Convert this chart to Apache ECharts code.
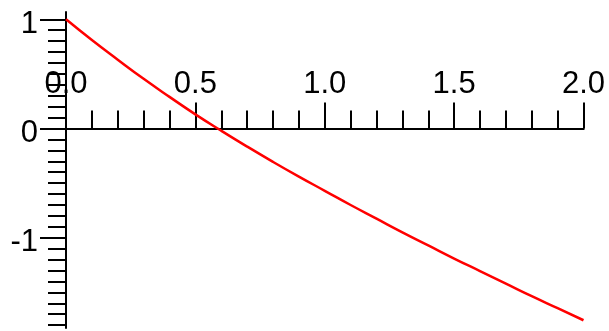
<!DOCTYPE html>
<html>
<head>
<meta charset="utf-8">
<script src="https://cdn.jsdelivr.net/npm/echarts@6/dist/echarts.min.js"></script>
<style>
  html, body { margin: 0; padding: 0; background: #fff; }
  #chart { width: 609px; height: 331px; }
</style>
</head>
<body>
<div id="chart"></div>
<script>
// Curve samples
const xValues = [0, 0.1, 0.2, 0.3, 0.4, 0.5, 0.6, 0.7, 0.8, 0.9, 1.0,
                 1.1, 1.2, 1.3, 1.4, 1.5, 1.6, 1.7, 1.8, 1.9, 2.0];
const yValues = [1.00, 0.81, 0.63, 0.455, 0.29, 0.13, -0.02, -0.165, -0.305, -0.44, -0.57,
                 -0.70, -0.825, -0.95, -1.07, -1.19, -1.305, -1.42, -1.535, -1.645, -1.755];

// Axis ticks and labels
const xMajorTicks = [0, 0.5, 1.0, 1.5, 2.0];
const yMajorTicks = [-1, 0, 1];
const minorStep = 0.1;

const xMin = 0, xMax = 2;
const yMin = -1.826, yMax = 1.067;

function stepTicks(lo, hi, step) {
  const out = [];
  for (let k = Math.ceil(lo / step - 1e-9); k * step <= hi + 1e-9; k++) {
    out.push(+(k * step).toFixed(2));
  }
  return out;
}
const xMinorTicks = stepTicks(xMin, xMax, minorStep);
const yMinorTicks = stepTicks(yMin, yMax, minorStep);

const font = 'Liberation Sans, Arial, sans-serif';
const black = '#000';

const chart = echarts.init(document.getElementById('chart'), null, { renderer: 'canvas' });

chart.setOption({
  animation: false,
  backgroundColor: '#fff',
  grid: { left: 66, right: 25.5, top: 12, bottom: 3, containLabel: false, outerBoundsMode: 'none' },
  xAxis: [
    {
      type: 'value', min: xMin, max: xMax, position: 'bottom',
      axisLine: { onZero: true, lineStyle: { color: black, width: 2 } },
      axisTick: { show: true, inside: true, length: 26, customValues: xMajorTicks, lineStyle: { color: black, width: 2 } },
      axisLabel: {
        show: true, inside: true, customValues: xMajorTicks, margin: 244,
        color: black, fontSize: 31, fontFamily: font, verticalAlign: 'middle',
        formatter: v => v.toFixed(1)
      },
      splitLine: { show: false }
    },
    {
      type: 'value', min: xMin, max: xMax, position: 'bottom',
      axisLine: { onZero: true, lineStyle: { color: black, width: 2 } },
      axisTick: { show: true, inside: true, length: 18, customValues: xMinorTicks, lineStyle: { color: black, width: 2 } },
      axisLabel: { show: false },
      splitLine: { show: false }
    }
  ],
  yAxis: [
    {
      type: 'value', min: yMin, max: yMax, position: 'left',
      axisLine: { onZero: true, lineStyle: { color: black, width: 2 } },
      axisTick: { show: true, length: 26, customValues: yMajorTicks, lineStyle: { color: black, width: 2 } },
      axisLabel: {
        show: true, customValues: yMajorTicks, margin: 28,
        color: black, fontSize: 31, fontFamily: font,
        verticalAlign: 'top', lineHeight: 10,
        formatter: v => String(v)
      },
      splitLine: { show: false }
    },
    {
      type: 'value', min: yMin, max: yMax, position: 'left',
      axisLine: { show: false },
      axisTick: { show: true, length: 18, customValues: yMinorTicks, lineStyle: { color: black, width: 2 } },
      axisLabel: { show: false },
      splitLine: { show: false }
    }
  ],
  series: [
    {
      type: 'line',
      xAxisIndex: 0, yAxisIndex: 0,
      data: xValues.map((x, i) => [x, yValues[i]]),
      smooth: true,
      showSymbol: false,
      lineStyle: { color: '#ff0000', width: 2.5 },
      itemStyle: { color: '#ff0000' }
    }
  ]
});
</script>
</body>
</html>
